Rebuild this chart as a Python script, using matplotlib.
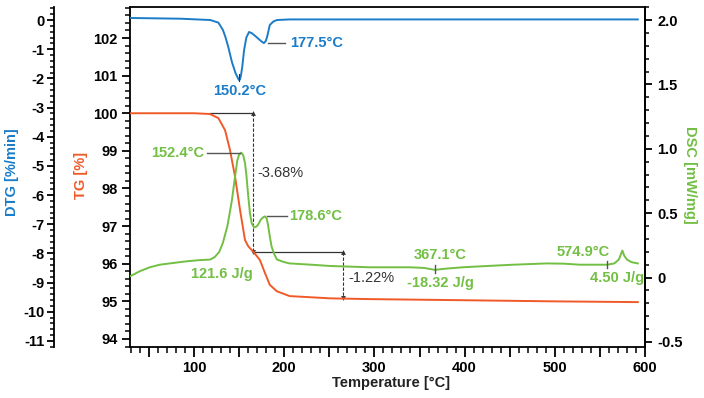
import numpy as np
import matplotlib
matplotlib.use('Agg')
import matplotlib.pyplot as plt
from matplotlib.ticker import MultipleLocator, FuncFormatter

plt.rcParams['font.family'] = ['Liberation Sans', 'DejaVu Sans']
plt.rcParams['font.weight'] = 'bold'
plt.rcParams['font.size'] = 10.5
plt.rcParams['axes.unicode_minus'] = False

BLUE = '#1b7cc8'
RED = '#f05a28'
GREEN = '#72bf44'
DARK = '#333333'

# TG curve [%]
tg_t = [29, 100, 117.7, 127, 134.4, 139.9, 145.5, 151, 156.5, 160.2, 165.7, 173,
        178.7, 184, 191.7, 206, 251, 295, 400, 500, 592]
tg_v = [100.0, 100.0, 99.98, 99.87, 99.55, 99.02, 98.31, 97.43, 96.63, 96.46, 96.32, 96.1,
        95.75, 95.44, 95.27, 95.14, 95.08, 95.06, 95.03, 95.0, 94.98]

# DTG curve [%/min]
dtg_t = [29, 85, 118, 127, 132, 135, 138, 142, 146, 148.5, 149.5, 150.2, 151, 152, 153.5, 155.5,
         158, 161, 164, 168, 172, 175, 177.5, 179.5, 181, 184, 188, 192, 206, 300, 400, 500, 592]
dtg_v = [0.07, 0.045, 0.0, -0.09, -0.34, -0.6, -0.93, -1.44, -1.82, -1.98, -2.04, -2.06, -2.03,
         -1.9, -1.6, -1.03, -0.6, -0.41, -0.45, -0.55, -0.66, -0.74, -0.79, -0.72, -0.58, -0.17,
         -0.05, 0.0, 0.02, 0.02, 0.02, 0.02, 0.02]

# DSC curve [mW/mg]
dsc_t = [29, 40, 51, 62, 73, 90, 105, 118, 123, 128, 132, 137, 142, 145, 148, 150, 152.4,
         154.5, 156.5, 158, 160, 162, 164, 166.5, 169, 171, 174, 177, 178.6, 180.5, 182, 184,
         186, 189, 192, 200, 206, 230, 251, 295, 339, 355, 367, 380, 398, 425, 454, 491, 510,
         528, 558, 566, 571, 574.9, 577, 580, 585, 592]
dsc_v = [0.01, 0.05, 0.08, 0.10, 0.11, 0.125, 0.135, 0.14, 0.16, 0.2, 0.27, 0.4, 0.60, 0.76,
         0.91, 0.955, 0.97, 0.95, 0.89, 0.80, 0.64, 0.50, 0.42, 0.39, 0.395, 0.41, 0.45, 0.47,
         0.475, 0.46, 0.41, 0.32, 0.24, 0.18, 0.14, 0.12, 0.11, 0.10, 0.09, 0.08, 0.08, 0.075,
         0.06, 0.07, 0.08, 0.09, 0.10, 0.11, 0.108, 0.10, 0.10, 0.11, 0.14, 0.21, 0.17, 0.14,
         0.12, 0.11]

# mass loss steps
step_t = [165.7, 265.2]
step_tg = [100.0, 96.32, 95.08]
step_labels = ['-3.68%', '-1.22%']

fig = plt.figure(figsize=(7.04, 3.98), dpi=100)
ax = fig.add_axes([130 / 704, 51 / 398, 515 / 704, 340 / 398])
ax_dtg = ax.twinx()
ax_dsc = ax.twinx()

for a in (ax, ax_dtg, ax_dsc):
    for s in a.spines.values():
        s.set_linewidth(1.3)

# DTG axis on the far left
ax_dtg.spines['left'].set_position(('axes', -76 / 515))
ax_dtg.spines['left'].set_visible(True)
ax_dtg.yaxis.set_ticks_position('left')
for s in ('right', 'top', 'bottom'):
    ax_dtg.spines[s].set_visible(False)
for s in ('left', 'top', 'bottom'):
    ax_dsc.spines[s].set_visible(False)

ax.set_xlim(29, 600)
ax.set_ylim(93.787, 102.824)
ax_dtg.set_ylim(-11.206, 0.446)
ax_dsc.set_ylim(-0.539, 2.101)

ax.xaxis.set_major_locator(MultipleLocator(50))
ax.xaxis.set_minor_locator(MultipleLocator(10))
ax.xaxis.set_major_formatter(FuncFormatter(lambda v, p: '%d' % v if v % 100 == 0 else ''))
ax.yaxis.set_major_locator(MultipleLocator(1))
ax.yaxis.set_minor_locator(MultipleLocator(0.2))
ax_dtg.yaxis.set_major_locator(MultipleLocator(1))
ax_dtg.yaxis.set_minor_locator(MultipleLocator(0.2))
ax_dtg.yaxis.set_major_formatter(FuncFormatter(lambda v, p: '%d' % round(v)))
ax_dsc.yaxis.set_major_locator(MultipleLocator(0.5))
ax_dsc.yaxis.set_minor_locator(MultipleLocator(0.1))
ax_dsc.yaxis.set_major_formatter(FuncFormatter(lambda v, p: '0' if abs(v) < 1e-9 else '%.1f' % v))

ax.tick_params(axis='x', which='major', direction='out', length=7, width=1.3, pad=3)
ax.tick_params(axis='x', which='minor', direction='out', length=4, width=1.1)
ax.tick_params(axis='y', which='major', direction='out', length=6, width=1.3, pad=3)
ax.tick_params(axis='y', which='minor', direction='out', length=3.5, width=1.1)
ax_dtg.tick_params(axis='y', which='major', direction='out', length=5, width=1.3, pad=2)
ax_dtg.tick_params(axis='y', which='minor', direction='out', length=3, width=1.1)
ax_dsc.tick_params(axis='y', which='major', direction='out', length=5, width=1.3, pad=4)
ax_dsc.tick_params(axis='y', which='minor', direction='out', length=3, width=1.1)

# curves
ax.plot(tg_t, tg_v, color=RED, lw=1.4, zorder=3)
ax_dtg.plot(dtg_t, dtg_v, color=BLUE, lw=1.4)
ax_dsc.plot(dsc_t, dsc_v, color=GREEN, lw=1.4)

# step annotations
ax.plot([117.7, step_t[0]], [step_tg[0], step_tg[0]], color=DARK, lw=0.9, zorder=2)
ax.plot([step_t[0], step_t[1]], [step_tg[1], step_tg[1]], color=DARK, lw=0.9, zorder=2)
for i in range(2):
    ax.plot([step_t[i], step_t[i]], [step_tg[i], step_tg[i + 1]], color=DARK, lw=0.8, ls=(0, (3, 1.5)), zorder=2)
    ax.plot([step_t[i]], [step_tg[i]], marker='^', ms=3.5, color=DARK, markeredgewidth=0, zorder=2)
    ax.plot([step_t[i]], [step_tg[i + 1]], marker='v', ms=3.5, color=DARK, markeredgewidth=0, zorder=2)
ax.text(169.8, 98.41, step_labels[0], color=DARK, fontweight='normal', va='center', ha='left')
ax.text(270.7, 95.62, step_labels[1], color=DARK, fontweight='normal', va='center', ha='left')

# DTG labels
ax_dtg.plot([150.2, 150.2], [-1.85, -2.1], color=DARK, lw=0.8)
ax_dtg.text(150.5, -2.42, '150.2°C', color=BLUE, ha='center', va='center')
ax_dtg.plot([182, 201], [-0.79, -0.79], color='#555555', lw=1.0)
ax_dtg.text(206, -0.79, '177.5°C', color=BLUE, ha='left', va='center')

# DSC labels
ax_dsc.plot([114.4, 151], [0.967, 0.967], color='#555555', lw=1.0)
ax_dsc.text(111, 0.967, '152.4°C', color=GREEN, ha='right', va='center')
ax_dsc.plot([181, 203], [0.478, 0.478], color='#555555', lw=1.0)
ax_dsc.text(205, 0.478, '178.6°C', color=GREEN, ha='left', va='center')
ax_dsc.text(131, 0.025, '121.6 J/g', color=GREEN, ha='center', va='center')
ax_dsc.plot([367, 367], [0.036, 0.098], color='#555555', lw=1.0)
ax_dsc.text(372.7, 0.175, '367.1°C', color=GREEN, ha='center', va='center')
ax_dsc.text(372.7, -0.04, '-18.32 J/g', color=GREEN, ha='center', va='center')
ax_dsc.plot([558, 558], [0.075, 0.125], color='#555555', lw=1.0)
ax_dsc.text(531, 0.20, '574.9°C', color=GREEN, ha='center', va='center')
ax_dsc.text(569, -0.003, '4.50 J/g', color=GREEN, ha='center', va='center')

# axis titles
fig.text(12 / 704, 1 - 172 / 398, 'DTG [%/min]', color=BLUE, rotation=90, ha='center', va='center')
fig.text(81 / 704, 1 - 175 / 398, 'TG [%]', color=RED, rotation=90, ha='center', va='center')
fig.text(690 / 704, 1 - 175 / 398, 'DSC [mW/mg]', color=GREEN, rotation=-90, ha='center', va='center')
fig.text(391 / 704, 1 - 383 / 398, 'Temperature [°C]', color='#222222', ha='center', va='center')

fig.savefig('out.png', dpi=100)
